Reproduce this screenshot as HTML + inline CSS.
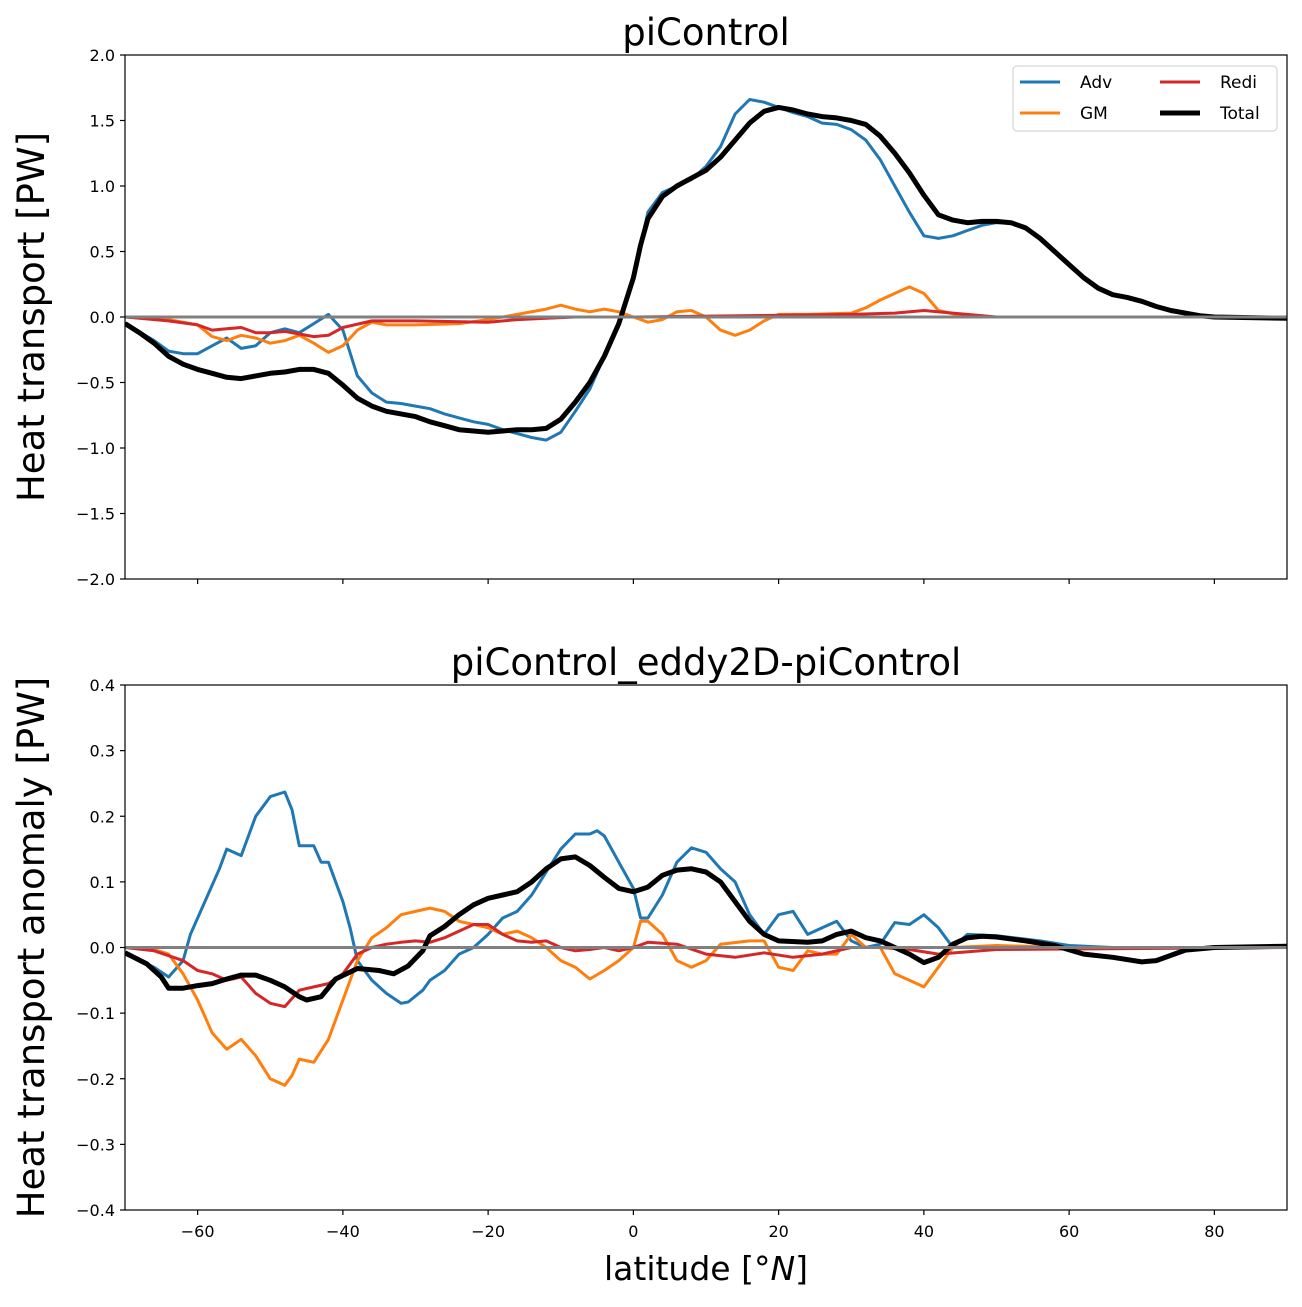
<!DOCTYPE html>
<html><head><meta charset="utf-8"><style>
body{margin:0;background:#fff}
svg text{font-family:"DejaVu Sans","Liberation Sans",sans-serif}
</style></head><body>
<svg id="c" width="1302" height="1302" xmlns="http://www.w3.org/2000/svg"></svg>
<script>
const topAdvLat=[-70,-66,-64,-62,-60,-58,-56,-54,-52,-50,-48,-46,-44,-42,-40,-38,-36,-34,-32,-30,-28,-26,-24,-22,-20,-18,-16,-14,-12,-10,-8,-6,-4,-2,0,2,4,6,8,10,12,14,16,18,20,22,24,26,28,30,32,34,36,38,40,42,44,46,48,50,52,54,56,58,60,62,64,66,68,70,72,74,76,78,80,90];
const topAdvVal=[-0.05,-0.18,-0.26,-0.28,-0.28,-0.22,-0.16,-0.24,-0.22,-0.12,-0.09,-0.12,-0.05,0.02,-0.1,-0.45,-0.58,-0.65,-0.66,-0.68,-0.7,-0.74,-0.77,-0.8,-0.82,-0.86,-0.89,-0.92,-0.94,-0.88,-0.72,-0.55,-0.3,-0.05,0.3,0.8,0.95,1.0,1.05,1.15,1.3,1.55,1.66,1.64,1.6,1.56,1.53,1.48,1.47,1.43,1.35,1.2,1.0,0.8,0.62,0.6,0.62,0.66,0.7,0.72,0.72,0.68,0.6,0.5,0.4,0.3,0.22,0.17,0.15,0.12,0.08,0.05,0.03,0.01,0.0,-0.01];
const topGMLat=[-70,-64,-60,-58,-56,-54,-52,-50,-48,-46,-44,-42,-40,-38,-36,-34,-30,-24,-20,-16,-12,-10,-8,-6,-4,-2,0,2,4,6,8,10,12,14,16,18,20,24,30,32,34,36,38,40,42,46,60,90];
const topGMVal=[0,-0.02,-0.06,-0.15,-0.18,-0.14,-0.16,-0.2,-0.18,-0.14,-0.2,-0.27,-0.22,-0.1,-0.04,-0.06,-0.06,-0.05,-0.02,0.02,0.06,0.09,0.06,0.04,0.06,0.04,0,-0.04,-0.02,0.04,0.05,0,-0.1,-0.14,-0.1,-0.03,0.02,0.02,0.03,0.07,0.13,0.18,0.23,0.18,0.05,0,0,0];
const topRediLat=[-70,-64,-60,-58,-56,-54,-52,-50,-48,-46,-44,-42,-40,-36,-30,-20,-16,-12,-8,0,30,36,40,44,50,90];
const topRediVal=[0,-0.03,-0.06,-0.1,-0.09,-0.08,-0.12,-0.12,-0.11,-0.13,-0.15,-0.14,-0.08,-0.03,-0.03,-0.04,-0.02,-0.01,0,0,0.02,0.03,0.05,0.03,0,0];
const topTotLat=[-70,-68,-66,-64,-62,-60,-58,-56,-54,-52,-50,-48,-46,-44,-42,-40,-38,-36,-34,-32,-30,-28,-26,-24,-22,-20,-18,-16,-14,-12,-10,-8,-6,-4,-2,0,1,2,4,6,8,10,12,14,16,18,20,22,24,26,28,30,32,34,36,38,40,42,44,46,48,50,52,54,56,58,60,62,64,66,68,70,72,74,76,78,80,90];
const topTotVal=[-0.05,-0.12,-0.2,-0.3,-0.36,-0.4,-0.43,-0.46,-0.47,-0.45,-0.43,-0.42,-0.4,-0.4,-0.43,-0.52,-0.62,-0.68,-0.72,-0.74,-0.76,-0.8,-0.83,-0.86,-0.87,-0.88,-0.87,-0.86,-0.86,-0.85,-0.78,-0.65,-0.5,-0.3,-0.05,0.3,0.55,0.75,0.92,1.0,1.06,1.12,1.22,1.35,1.48,1.57,1.6,1.58,1.55,1.53,1.52,1.5,1.47,1.38,1.25,1.1,0.93,0.78,0.74,0.72,0.73,0.73,0.72,0.68,0.6,0.5,0.4,0.3,0.22,0.17,0.15,0.12,0.08,0.05,0.03,0.01,0,-0.01];
const botAdvLat=[-70,-66,-64,-62,-61,-59,-57,-56,-54,-52,-50,-48,-47,-46,-44,-43,-42,-40,-39,-38,-36,-34,-32,-31,-29,-28,-26,-24,-22,-20,-18,-16,-14,-12,-10,-8,-6,-5,-4,-2,0,1,2,4,6,8,10,12,14,16,18,20,22,24,26,28,30,32,34,36,38,40,42,44,46,50,56,60,66,90];
const botAdvVal=[-0.01,-0.03,-0.045,-0.02,0.02,0.07,0.12,0.15,0.14,0.2,0.23,0.237,0.21,0.155,0.155,0.13,0.13,0.07,0.03,-0.02,-0.05,-0.07,-0.085,-0.083,-0.065,-0.05,-0.035,-0.01,0,0.02,0.045,0.055,0.08,0.115,0.15,0.173,0.173,0.178,0.17,0.13,0.09,0.045,0.045,0.08,0.13,0.152,0.145,0.12,0.1,0.05,0.02,0.05,0.055,0.02,0.03,0.04,0.01,0,0.005,0.038,0.035,0.05,0.03,0,0.02,0.018,0.01,0.003,0,0];
const botGMLat=[-70,-66,-64,-62,-60,-58,-56,-54,-52,-50,-48,-47,-46,-44,-42,-40,-38,-36,-34,-32,-30,-28,-26,-24,-22,-20,-18,-16,-14,-12,-10,-8,-6,-4,-2,0,1,2,4,6,8,10,12,16,18,20,22,24,26,28,30,32,34,36,38,40,42,44,50,60,90];
const botGMVal=[0,-0.003,-0.01,-0.04,-0.08,-0.13,-0.155,-0.14,-0.165,-0.2,-0.21,-0.195,-0.17,-0.175,-0.14,-0.08,-0.02,0.015,0.03,0.05,0.055,0.06,0.055,0.04,0.035,0.03,0.02,0.025,0.015,0,-0.02,-0.03,-0.048,-0.035,-0.02,0,0.04,0.04,0.02,-0.02,-0.03,-0.02,0.005,0.01,0.01,-0.03,-0.035,-0.005,-0.01,-0.01,0.02,0,0,-0.04,-0.05,-0.06,-0.03,0,0.003,0,0];
const botRediLat=[-70,-66,-62,-60,-58,-56,-54,-52,-50,-48,-46,-44,-42,-40,-38,-36,-34,-32,-30,-28,-26,-24,-22,-20,-18,-16,-14,-12,-10,-8,-6,-4,-2,0,2,6,10,14,18,22,26,30,34,38,42,50,90];
const botRediVal=[0,-0.005,-0.02,-0.035,-0.04,-0.05,-0.045,-0.07,-0.085,-0.09,-0.065,-0.06,-0.055,-0.04,-0.01,0,0.005,0.008,0.01,0.008,0.015,0.025,0.035,0.035,0.02,0.01,0.008,0.01,0,-0.005,-0.003,0,-0.005,0,0.008,0.005,-0.01,-0.015,-0.008,-0.015,-0.01,0,0,-0.003,-0.01,-0.003,0];
const botTotLat=[-70,-67,-65,-64,-62,-60,-58,-56,-54,-52,-50,-48,-46,-45,-43,-41,-38,-35,-33,-31,-29,-28,-26,-24,-22,-20,-18,-16,-14,-12,-10,-8,-6,-4,-2,0,2,4,6,8,10,12,14,16,18,20,24,26,28,30,32,34,36,38,40,42,44,46,48,50,54,58,62,66,70,72,74,76,80,90];
const botTotVal=[-0.008,-0.025,-0.045,-0.062,-0.062,-0.058,-0.055,-0.048,-0.042,-0.042,-0.05,-0.06,-0.075,-0.08,-0.075,-0.048,-0.032,-0.035,-0.04,-0.028,-0.005,0.018,0.032,0.05,0.065,0.075,0.08,0.085,0.1,0.12,0.135,0.138,0.125,0.107,0.09,0.085,0.092,0.11,0.118,0.12,0.115,0.1,0.07,0.04,0.02,0.01,0.008,0.01,0.02,0.025,0.015,0.01,0,-0.01,-0.023,-0.015,0.005,0.015,0.017,0.016,0.01,0.003,-0.01,-0.015,-0.022,-0.02,-0.012,-0.004,0,0.002];
const xTicks=[-60,-40,-20,0,20,40,60,80];
const topYTicks=[-2.0,-1.5,-1.0,-0.5,0.0,0.5,1.0,1.5,2.0];
const botYTicks=[-0.4,-0.3,-0.2,-0.1,0.0,0.1,0.2,0.3,0.4];

const svg=document.getElementById('c');const NS='http://www.w3.org/2000/svg';
function mk(t,a,p){const e=document.createElementNS(NS,t);for(const k in a)e.setAttribute(k,a[k]);(p||svg).appendChild(e);return e;}
const L=125,R=1287;
const X=v=>L+(v+70)/160*(R-L);
function fmt(v,d){const s=Math.abs(v).toFixed(d);return (v<0?'\u2212':'')+s;}
function panel(name,T,B,ymin,ymax,ticks,dec,series,title,ylab,xlabels){
  const g=mk('g',{});
  
  
  const Y=v=>B-(v-ymin)/(ymax-ymin)*(B-T);
  const clip=mk('clipPath',{id:'cl'+name},g);mk('rect',{x:L,y:T,width:R-L,height:B-T},clip);
  const pg=mk('g',{'clip-path':'url(#cl'+name+')'},g);
  series.forEach(s=>{
    const d=s.lat.map((v,i)=>(i?'L':'M')+X(v).toFixed(1)+','+Y(s.val[i]).toFixed(1)).join('');
    const p=mk('path',{d:d,fill:'none',stroke:s.c,'stroke-width':s.w,'stroke-linejoin':'round'},pg);
    
    
  });
  const z=mk('line',{x1:L,x2:R,y1:Y(0),y2:Y(0),stroke:'#808080','stroke-width':3},pg);
  
  
  mk('rect',{x:L,y:T,width:R-L,height:B-T,fill:'none',stroke:'#000','stroke-width':1.2},g);
  ticks.forEach(t=>{const y=Y(t);mk('line',{x1:L-5,x2:L,y1:y,y2:y,stroke:'#000','stroke-width':1.2},g);
    const tx=mk('text',{x:L-10,y:y+6,'text-anchor':'end','font-size':16},g);tx.textContent=fmt(t,dec);
    
    });
  xTicks.forEach(t=>{const x=X(t);mk('line',{x1:x,x2:x,y1:B,y2:B+5,stroke:'#000','stroke-width':1.2},g);
    if(xlabels){const tx=mk('text',{x:x,y:B+27,'text-anchor':'middle','font-size':16},g);tx.textContent=fmt(t,0);
    
    }});
  const tt=mk('text',{x:(L+R)/2,y:T-10,'text-anchor':'middle','font-size':37},g);tt.textContent=title;
  
  
  const yl=mk('text',{x:0,y:0,'text-anchor':'middle','font-size':37,transform:`translate(44,${(T+B)/2}) rotate(-90)`},g);yl.textContent=ylab;
  
  
}
panel('top-panel',55,579,-2,2,topYTicks,1,[
 {n:'adv-line',lat:topAdvLat,val:topAdvVal,c:'#1f77b4',w:3},
 {n:'gm-line',lat:topGMLat,val:topGMVal,c:'#ff7f0e',w:3},
 {n:'redi-line',lat:topRediLat,val:topRediVal,c:'#d62728',w:3},
 {n:'total-line',lat:topTotLat,val:topTotVal,c:'#000',w:5}],'piControl','Heat transport [PW]',false);
panel('bottom-panel',685,1210,-0.4,0.4,botYTicks,1,[
 {n:'adv-line',lat:botAdvLat,val:botAdvVal,c:'#1f77b4',w:3},
 {n:'gm-line',lat:botGMLat,val:botGMVal,c:'#ff7f0e',w:3},
 {n:'redi-line',lat:botRediLat,val:botRediVal,c:'#d62728',w:3},
 {n:'total-line',lat:botTotLat,val:botTotVal,c:'#000',w:5}],'piControl_eddy2D-piControl','Heat transport anomaly [PW]',true);
const xl=mk('text',{x:(L+R)/2,y:1280,'text-anchor':'middle','font-size':33});
xl.innerHTML='latitude [°<tspan font-style="italic">N</tspan>]';


const lg=mk('g',{});


mk('rect',{x:1013,y:66,width:264,height:65,rx:4,fill:'#fff','fill-opacity':0.8,stroke:'#ccc'},lg);
[['Adv','#1f77b4',3,1020,82],['GM','#ff7f0e',3,1020,113],['Redi','#d62728',3,1160,82],['Total','#000',5,1160,113]].forEach(e=>{
  const gg=mk('g',{},lg);
  
  
  mk('line',{x1:e[3],x2:e[3]+40,y1:e[4],y2:e[4],stroke:e[1],'stroke-width':e[2]},gg);
  const t=mk('text',{x:e[3]+60,y:e[4]+6,'font-size':17},gg);t.textContent=e[0];
});
</script>
</body></html>
